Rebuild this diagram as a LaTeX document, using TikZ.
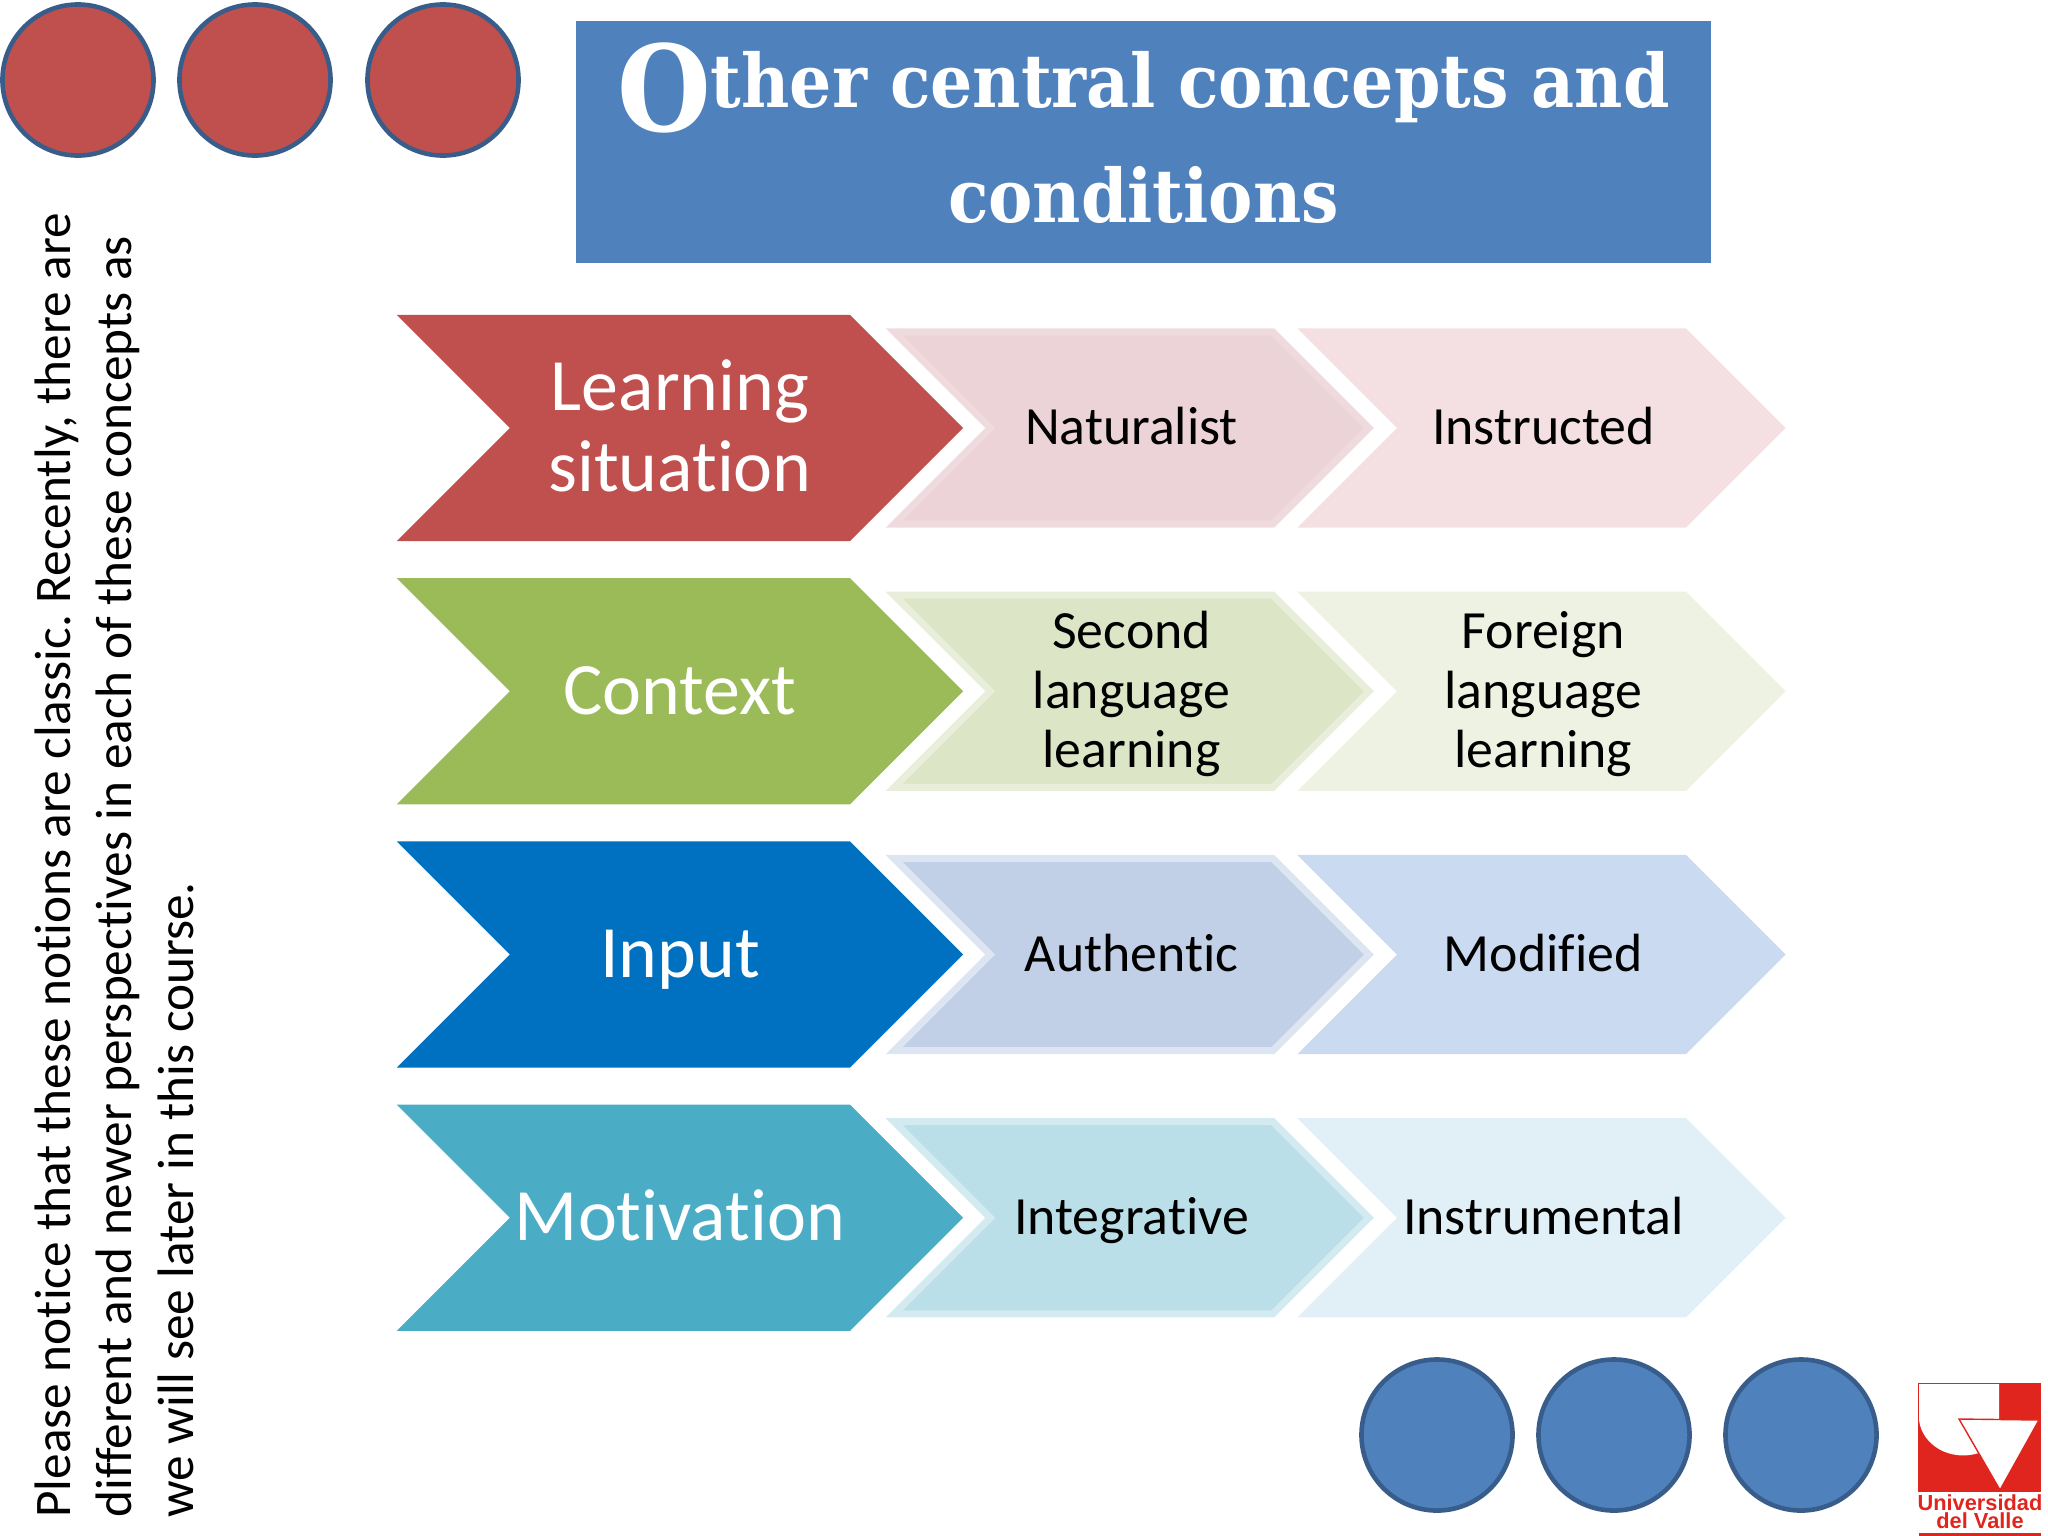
\documentclass[tikz,border=0pt]{standalone}
\usepackage{xcolor}
\usepackage{fontspec}
\setmainfont[Ligatures=NoCommon]{Carlito}
\newfontfamily\titlefont{DejaVu Serif Condensed}
\newfontfamily\logofont{Liberation Sans}
\usetikzlibrary{shapes.symbols, positioning}
\newcommand{\topline}{\vphantom{\raisebox{0.1em}{l}}}
\definecolor{redhead}{HTML}{C0504D}
\definecolor{greenhead}{HTML}{9BBB59}
\definecolor{bluehead}{HTML}{0070C0}
\definecolor{tealhead}{HTML}{4BACC6}
\definecolor{titleblue}{HTML}{4F81BD}
\definecolor{ringblue}{HTML}{385D8A}
\definecolor{logored}{HTML}{E0251F}
\definecolor{redcell}{HTML}{ECD3D8}
\definecolor{redrim}{HTML}{EFDADE}
\definecolor{redpale}{HTML}{F4DFE3}
\definecolor{greencell}{HTML}{DCE6C6}
\definecolor{greenrim}{HTML}{E8EEDA}
\definecolor{greenpale}{HTML}{EEF2E3}
\definecolor{bluecell}{HTML}{C1D0E6}
\definecolor{bluerim}{HTML}{DCE5F1}
\definecolor{bluepale}{HTML}{CADAF0}
\definecolor{tealcell}{HTML}{BBDFE8}
\definecolor{tealrim}{HTML}{D3EAF0}
\definecolor{tealpale}{HTML}{E0F0F6}

\begin{document}
\frenchspacing
\begin{tikzpicture}[x=0.01cm, y=-0.01cm, node distance=0.357cm]
    \tikzstyle{chevron} = [signal, signal to=east, signal from=west, signal pointer angle=90, inner sep=0pt, align=center, execute at begin node={\topline\vphantom{g}}, execute at end node={\vphantom{lg}}]
    \tikzstyle{head} = [chevron, minimum width=5.66cm, minimum height=2.26cm, text=white, font=\fontsize{21pt}{23pt}\selectfont]
    \tikzstyle{cell} = [chevron, minimum width=4.745cm, minimum height=1.92cm, line width=2pt, font=\fontsize{15.3pt}{17pt}\selectfont]
    \tikzstyle{dot} = [circle, minimum size=1.51cm, inner sep=0pt, draw=ringblue, line width=1.3pt]

    \useasboundingbox (0,0) rectangle (2048,1536);

    \node (dot1) [dot, fill=redhead] at (78,80) {};
    \node (dot2) [dot, fill=redhead] at (255,80) {};
    \node (dot3) [dot, fill=redhead] at (443,80) {};

    \node (title) [fill=titleblue, minimum width=11.35cm, minimum height=2.42cm, inner sep=0pt] at (1143.5,142) {};
    \node (titletext) [yshift=0.09cm, text=white, align=center, font=\titlefont\bfseries\fontsize{21pt}{32.5pt}\selectfont] at (title) {{\fontsize{34pt}{32.5pt}\selectfont\raisebox{-0.235cm}{O}}ther central concepts and\\conditions};

    \node (note) [rotate=90, anchor=north west, align=left, font=\fontsize{14.58pt}{17.6pt}\selectfont] at (22,1530) {Please notice that these notions are classic. Recently, there are\\different and newer perspectives in each of these concepts as\\we will see later in this course.};

    % rows
    \node (situation) [head, fill=redhead] at (680,428) {\topline Learning\\situation};
    \node (context) [head, fill=greenhead, below=of situation] {Context};
    \node (input) [head, fill=bluehead, below=of context] {Input};
    \node (motivation) [head, fill=tealhead, below=of input] {Motivation};

    \node (naturalist) [cell, fill=redcell, draw=redrim, right=4.513cm of situation.center, anchor=center] {Naturalist};
    \node (instructed) [cell, fill=redpale, draw=redpale, right=4.115cm of naturalist.center, anchor=center] {Instructed};
    \node (second) [cell, fill=greencell, draw=greenrim, right=4.513cm of context.center, anchor=center] {\topline Second\\language\\learning};
    \node (foreign) [cell, fill=greenpale, draw=greenpale, right=4.115cm of second.center, anchor=center] {\topline Foreign\\language\\learning};
    \node (authentic) [cell, fill=bluecell, draw=bluerim, right=4.513cm of input.center, anchor=center] {Authentic};
    \node (modified) [cell, fill=bluepale, draw=bluepale, right=4.115cm of authentic.center, anchor=center] {Modified};
    \node (integrative) [cell, fill=tealcell, draw=tealrim, right=4.513cm of motivation.center, anchor=center] {Integrative};
    \node (instrumental) [cell, fill=tealpale, draw=tealpale, right=4.115cm of integrative.center, anchor=center] {Instrumental};

    \node (dot4) [dot, fill=titleblue] at (1437,1435) {};
    \node (dot5) [dot, fill=titleblue] at (1614,1435) {};
    \node (dot6) [dot, fill=titleblue] at (1801,1435) {};

    % logo
    \fill [logored] (1918,1383) rectangle (2041,1492);
    \fill [white] (1919,1384) -- (1999,1384) -- (1999,1419) -- (1959,1419) -- (1979,1453) .. controls (1950,1462) and (1922,1445) .. (1919,1420) -- cycle;
    \filldraw [fill=white, draw=logored, line width=0.4pt] (1959,1419) -- (2039,1420) -- (2000,1490) -- cycle;
    \node (logotext) [inner sep=0pt, text=logored, align=center, font=\logofont\bfseries\fontsize{6.2pt}{5.2pt}\selectfont] at (1980,1512) {Universidad\\del Valle};
    \fill [logored] (1919,1533) rectangle (2041,1536);
\end{tikzpicture}
\end{document}
